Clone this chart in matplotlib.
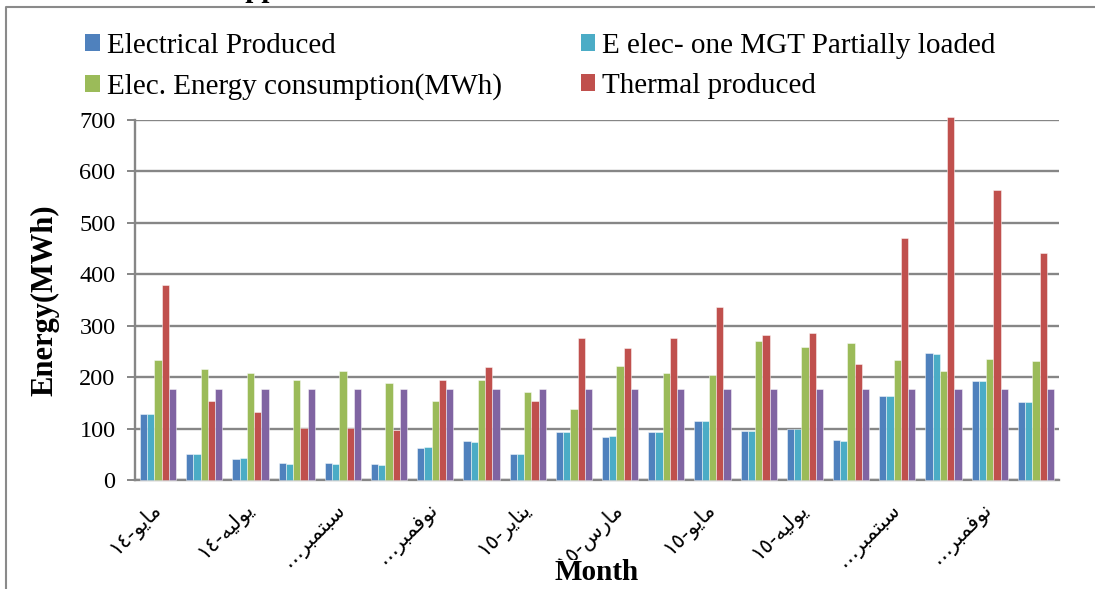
import matplotlib
matplotlib.use("Agg")
import matplotlib.pyplot as plt
import numpy as np
from matplotlib.patches import Patch
from matplotlib.lines import Line2D

# ---- data -------------------------------------------------------------
electrical_produced = [129, 51, 41, 34, 34, 31, 63, 75, 51, 94,
                       84, 94, 115, 96, 99, 77, 164, 247, 193, 151]
mgt_partially_loaded = [129, 50, 43, 32, 32, 30, 64, 73, 50, 93,
                        86, 93, 114, 95, 99, 76, 163, 245, 193, 151]
elec_consumption = [234, 215, 209, 195, 212, 188, 153, 195, 171, 138,
                    222, 208, 204, 271, 259, 266, 233, 212, 235, 232]
thermal_produced = [380, 154, 132, 102, 102, 97, 194, 220, 154, 277,
                    257, 276, 337, 281, 286, 225, 471, 706, 563, 441]
fifth_series = [177, 177, 177, 177, 177, 177, 177, 177, 177, 177,
                177, 177, 177, 177, 177, 177, 177, 177, 177, 177]

series_names = ["Electrical Produced", "E elec- one MGT Partially loaded",
                "Elec. Energy consumption(MWh)", "Thermal produced", None]
series_colors = ["#4F81BD", "#4BACC6", "#9BBB59", "#C0504D", "#8064A2"]

# month labels (shown on every second group)
tick_labels = ["مايو-١٤", "يوليه-١٤", "سبتمبر…", "نوفمبر…", "يناير-١٥",
               "مارس-١٥", "مايو-١٥", "يوليه-١٥", "سبتمبر…", "نوفمبر…"]
y_ticks = [0, 100, 200, 300, 400, 500, 600, 700]

# ---- minimal Arabic shaping (matplotlib has no complex text layout) ----
FORMS = {  # isolated, final, initial, medial
    "ا": (0xFE8D, 0xFE8E, None, None),
    "ب": (0xFE8F, 0xFE90, 0xFE91, 0xFE92),
    "ت": (0xFE95, 0xFE96, 0xFE97, 0xFE98),
    "ر": (0xFEAD, 0xFEAE, None, None),
    "س": (0xFEB1, 0xFEB2, 0xFEB3, 0xFEB4),
    "ف": (0xFED1, 0xFED2, 0xFED3, 0xFED4),
    "ل": (0xFEDD, 0xFEDE, 0xFEDF, 0xFEE0),
    "م": (0xFEE1, 0xFEE2, 0xFEE3, 0xFEE4),
    "ن": (0xFEE5, 0xFEE6, 0xFEE7, 0xFEE8),
    "ه": (0xFEE9, 0xFEEA, 0xFEEB, 0xFEEC),
    "و": (0xFEED, 0xFEEE, None, None),
    "ي": (0xFEF1, 0xFEF2, 0xFEF3, 0xFEF4),
}


def shape_word(word):
    out = []
    for i, ch in enumerate(word):
        prev = word[i - 1] if i > 0 else None
        nxt = word[i + 1] if i + 1 < len(word) else None
        joins_prev = prev in FORMS and FORMS[prev][2] is not None
        joins_next = nxt in FORMS and FORMS[ch][2] is not None
        iso, fin, ini, med = FORMS[ch]
        if joins_prev and joins_next:
            code = med
        elif joins_prev:
            code = fin
        elif joins_next:
            code = ini
        else:
            code = iso
        out.append(chr(code))
    return "".join(out)


def visual(text):
    # split into runs, reverse run order (RTL paragraph), reverse letters
    runs, cur, kind = [], "", None
    for ch in text:
        k = "ar" if ch in FORMS else ("num" if "\u0660" <= ch <= "\u0669" else "other")
        if k != kind and cur:
            runs.append((kind, cur))
            cur = ""
        kind = k
        cur += ch
    if cur:
        runs.append((kind, cur))
    parts = []
    for k, r in reversed(runs):
        parts.append(shape_word(r)[::-1] if k == "ar" else r)
    return "".join(parts)


# ---- figure -----------------------------------------------------------
serif = ["Liberation Serif", "DejaVu Serif"]
plt.rcParams["font.family"] = serif

W, H = 1095, 589
fig = plt.figure(figsize=(W / 100, H / 100), dpi=100)
fig.patch.set_facecolor("white")
ax = fig.add_axes([135 / W, 1 - 480 / H, 924 / W, 360 / H])

grid_c = "#868686"

n = len(electrical_produced)
x = np.arange(n) + 0.5
w = 0.156
all_series = [electrical_produced, mgt_partially_loaded, elec_consumption,
              thermal_produced, fifth_series]
for k, (vals, col) in enumerate(zip(all_series, series_colors)):
    ax.bar(x + (k - 2) * w, vals, w, color=col,
           edgecolor=(1, 1, 1, 0.55), linewidth=0.6, zorder=3, clip_on=False)

ax.set_xlim(0, n)
ax.set_ylim(0, 700)
ax.yaxis.grid(True, color=grid_c, linewidth=1.7)
ax.set_axisbelow(True)
ax.tick_params(axis="y", length=6, width=1.4, color=grid_c, pad=8,
               labelsize=17.5)
ax.set_yticks(y_ticks)
ax.set_yticklabels([str(v) for v in y_ticks])
for t in ax.get_yticklabels():
    t.set_fontfamily(serif)

ax.tick_params(axis="x", length=0, pad=19)
ax.set_xticks(x[::2])
ax.set_xticklabels([visual(t) for t in tick_labels], rotation=45,
                   ha="right", va="center", rotation_mode="anchor",
                   family=["DejaVu Sans"], fontsize=15)

for s in ("top", "right"):
    ax.spines[s].set_visible(False)
for s in ("left", "bottom"):
    ax.spines[s].set_color(grid_c)
    ax.spines[s].set_linewidth(1.7)

ax.set_ylabel("Energy(MWh)", fontsize=22, fontweight="bold")
ax.yaxis.set_label_coords(-0.082, 0.5)

fig.text(597 / W, 1 - 573 / H, "Month", fontsize=21,
         fontweight="bold", ha="center", va="center", zorder=10,
         bbox=dict(facecolor="white", edgecolor="none", pad=0))

# partly visible heading above the chart area
fig.text(230 / W, 1 + 3 / H, "upp", fontsize=21, fontweight="bold",
         ha="left", va="baseline")

# legend laid out row by row: matplotlib fills columns first
named = [(c, nm) for c, nm in zip(series_colors, series_names) if nm]
order = [0, 2, 1, 3]
handles = [Patch(facecolor=named[i][0]) for i in order]
labels = [named[i][1] for i in order]
fig.legend(handles, labels, ncol=2, loc="upper left",
           bbox_to_anchor=(85 / W, 1 - 33 / H), frameon=False,
           prop=dict(size=21), handlelength=0.5,
           handleheight=0.5, handletextpad=0.25, columnspacing=2.7,
           labelspacing=0.48, borderpad=0, borderaxespad=0)

# chart-area frame (left and top edges)
fig.add_artist(Line2D([6 / W, 6 / W, 1], [0, 1 - 7 / H, 1 - 7 / H],
                      transform=fig.transFigure, color="#8a8a8a", lw=1.5))

fig.savefig("out.png", dpi=100)
